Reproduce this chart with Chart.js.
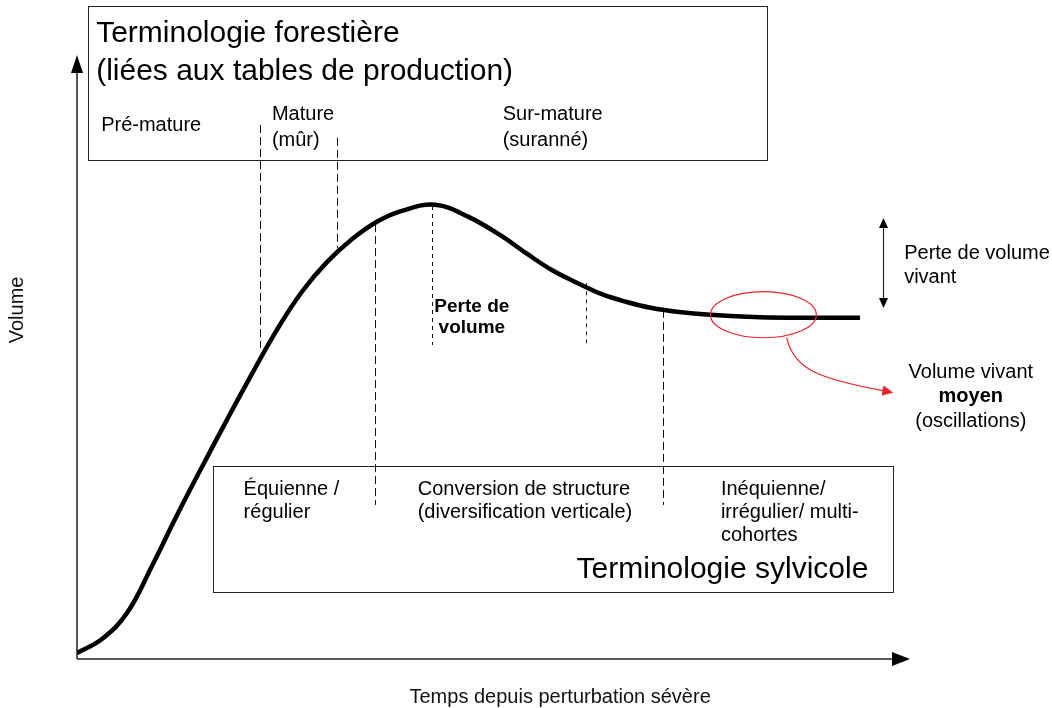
<!DOCTYPE html>
<html>
<head>
<meta charset="utf-8">
<script src="https://cdn.jsdelivr.net/npm/chart.js@4/dist/chart.umd.min.js"></script>
<style>html,body{margin:0;padding:0;background:#fff;}canvas{display:block;}</style>
</head>
<body>
<canvas id="c" width="1052" height="708"></canvas>
<script>
// ---- data (abstract units: time 0..100, volume 0..100) ----
const timeValues   = [0, 3, 6, 9, 12, 15, 18, 21, 24, 27, 30, 33, 36, 39, 43, 47, 51, 54, 57, 60, 63, 66, 69, 72, 76, 82, 88, 94];
const volumeValues = [1.0, 3.3, 7.6, 15.4, 23.8, 31.8, 39.6, 47.2, 54.5, 60.8, 65.7, 69.5, 72.4, 74.2, 75.2, 73.2, 70.0, 67.1, 64.4, 62.3, 60.4, 59.1, 58.1, 57.5, 57.0, 56.6, 56.5, 56.5];

// phase boundaries (dashed verticals)
const dashX      = [22.0, 31.2, 35.8, 42.6, 61.1, 70.3];
const dashTop    = [88.4, 86.3, 72.0, 75.0, 62.2, 57.8];
const dashBottom = [51.5, 68.0, 25.5, 52.0, 52.0, 25.5];
const dashFine   = [false, false, false, true, true, false];

// labels
const axisTitleX = 'Temps depuis perturbation sévère';
const axisTitleY = 'Volume';
const forestTitle = ['Terminologie forestière', '(liées aux tables de production)'];
const forestLabels = [['Pré-mature'], ['Mature', '(mûr)'], ['Sur-mature', '(suranné)']];
const forestLabelX = [2.9, 23.4, 51.1];
const sylvLabels = [['Équienne /', 'régulier'], ['Conversion de structure', '(diversification verticale)'], ['Inéquienne/', 'irrégulier/ multi-', 'cohortes']];
const sylvLabelX = [20.0, 40.9, 77.3];
const sylvTitle = 'Terminologie sylvicole';
const lossLabel = ['Perte de', 'volume'];
const liveLossLabel = ['Perte de volume', 'vivant'];
const meanLabel = ['Volume vivant', 'moyen', '(oscillations)'];

const FONT = '"Liberation Sans", Arial, Helvetica, sans-serif';

const annot = {
  id: 'annot',
  beforeDatasetsDraw(chart) {
    const {ctx, scales: {x, y}} = chart;
    ctx.save();
    ctx.strokeStyle = '#111';
    ctx.lineWidth = 1;
    dashX.forEach((v, i) => {
      ctx.setLineDash(dashFine[i] ? [4, 4] : [8, 4]);
      ctx.beginPath();
      const px = Math.round(x.getPixelForValue(v)) + 0.5;
      ctx.moveTo(px, y.getPixelForValue(dashTop[i]));
      ctx.lineTo(px, y.getPixelForValue(dashBottom[i]));
      ctx.stroke();
    });
    ctx.restore();
  },
  afterDatasetsDraw(chart) {
    const {ctx, scales: {x, y}} = chart;
    const X = v => x.getPixelForValue(v);
    const Y = v => y.getPixelForValue(v);
    ctx.save();
    // axes with arrows
    ctx.strokeStyle = '#222';
    ctx.fillStyle = '#000';
    ctx.lineWidth = 1.5;
    ctx.setLineDash([]);
    const x0 = X(0), y0 = Y(0), xT = X(100), yT = Y(100);
    ctx.beginPath();
    ctx.moveTo(x0, y0); ctx.lineTo(x0, yT + 16);
    ctx.moveTo(x0, y0); ctx.lineTo(xT - 16, y0);
    ctx.stroke();
    ctx.beginPath();
    ctx.moveTo(x0, yT); ctx.lineTo(x0 - 6, yT + 18); ctx.lineTo(x0 + 6, yT + 18); ctx.closePath(); ctx.fill();
    ctx.beginPath();
    ctx.moveTo(xT, y0); ctx.lineTo(xT - 18, y0 - 7); ctx.lineTo(xT - 18, y0 + 7); ctx.closePath(); ctx.fill();

    // boxes
    ctx.lineWidth = 1;
    ctx.strokeStyle = '#222';
    const box = (a, b, c, d) => {
      const l = Math.round(X(a)) + 0.5, t = Math.round(Y(b)) + 0.5;
      const r = Math.round(X(c)) + 0.5, btm = Math.round(Y(d)) + 0.5;
      ctx.strokeRect(l, t, r - l, btm - t);
    };
    box(1.32, 108.1, 82.8, 82.6);
    box(16.3, 32.0, 98.0, 11.1);

    const text = (s, vx, vy, font, align, color) => {
      ctx.font = font;
      ctx.textAlign = align || 'left';
      ctx.textBaseline = 'middle';
      ctx.fillStyle = color || '#000';
      ctx.fillText(s, X(vx), Y(vy));
    };
    const small = '20px ' + FONT;
    const big = '30px ' + FONT;

    text(forestTitle[0], 2.3, 103.6, big);
    text(forestTitle[1], 2.3, 97.2, big);
    forestLabels.forEach((lines, i) => {
      lines.forEach((s, j) => text(s, forestLabelX[i], (lines.length === 1 ? 88.4 : 90.1 - j * 4.2), small));
    });
    sylvLabels.forEach((lines, i) => {
      lines.forEach((s, j) => text(s, sylvLabelX[i], 28.0 - j * 3.8, small));
    });
    text(sylvTitle, 95.0, 14.7, big, 'right');

    lossLabel.forEach((s, j) => text(s, 47.4, 58.3 - j * 3.5, 'bold 19px ' + FONT, 'center'));
    liveLossLabel.forEach((s, j) => text(s, 99.3, 67.2 - j * 4.0, small));
    text(meanLabel[0], 107.3, 47.5, small, 'center');
    text(meanLabel[1], 107.3, 43.4, 'bold 20px ' + FONT, 'center');
    text(meanLabel[2], 107.3, 39.4, small, 'center');

    // double-headed arrow
    const ax = Math.round(X(96.8)) + 0.5, aTop = Y(73.0), aBot = Y(58.1);
    ctx.strokeStyle = '#222'; ctx.fillStyle = '#000'; ctx.lineWidth = 1.2;
    ctx.beginPath(); ctx.moveTo(ax, aTop + 8); ctx.lineTo(ax, aBot - 8); ctx.stroke();
    ctx.beginPath(); ctx.moveTo(ax, aTop); ctx.lineTo(ax - 4.5, aTop + 10); ctx.lineTo(ax + 4.5, aTop + 10); ctx.closePath(); ctx.fill();
    ctx.beginPath(); ctx.moveTo(ax, aBot); ctx.lineTo(ax - 4.5, aBot - 10); ctx.lineTo(ax + 4.5, aBot - 10); ctx.closePath(); ctx.fill();

    // red ellipse
    ctx.strokeStyle = '#e8242a'; ctx.fillStyle = '#e8242a'; ctx.lineWidth = 1.2;
    const ecx = X(82.4), ecy = Y(57.0);
    ctx.beginPath();
    ctx.ellipse(ecx, ecy, X(82.4 + 6.36) - ecx, ecy - Y(57.0 + 3.81), 0, 0, Math.PI * 2);
    ctx.stroke();
    // red curved arrow
    ctx.beginPath();
    ctx.moveTo(X(85.2), Y(53.2));
    ctx.bezierCurveTo(X(86.0), Y(48.0), X(89.0), Y(46.4), X(96.9), Y(44.4));
    ctx.stroke();
    const tx = X(98.0), ty = Y(44.1);
    const ang = Math.atan2(ty - Y(44.4), tx - X(96.9));
    ctx.beginPath();
    ctx.moveTo(tx, ty);
    ctx.lineTo(tx - 11 * Math.cos(ang) + 5 * Math.sin(ang), ty - 11 * Math.sin(ang) - 5 * Math.cos(ang));
    ctx.lineTo(tx - 11 * Math.cos(ang) - 5 * Math.sin(ang), ty - 11 * Math.sin(ang) + 5 * Math.cos(ang));
    ctx.closePath(); ctx.fill();

    // axis titles
    text(axisTitleX, 58.0, -6.3, small, 'center', '#111');
    ctx.save();
    ctx.translate(X(-7.1), Y(57.8));
    ctx.rotate(-Math.PI / 2);
    ctx.font = small; ctx.textAlign = 'center'; ctx.textBaseline = 'middle'; ctx.fillStyle = '#111';
    ctx.fillText(axisTitleY, 0, 0);
    ctx.restore();

    ctx.restore();
  }
};

new Chart(document.getElementById('c'), {
  type: 'scatter',
  data: {
    datasets: [{
      data: timeValues.map((t, i) => ({x: t, y: volumeValues[i]})),
      showLine: true,
      borderColor: '#000',
      borderWidth: 4.5,
      pointRadius: 0,
      tension: 0.4,
      cubicInterpolationMode: 'default',
      fill: false,
      borderCapStyle: 'butt'
    }]
  },
  options: {
    responsive: false,
    animation: false,
    layout: {padding: {left: 77, right: 142, top: 55, bottom: 49}},
    plugins: {legend: {display: false}, tooltip: {enabled: false}},
    scales: {
      x: {type: 'linear', min: 0, max: 100, display: false},
      y: {type: 'linear', min: 0, max: 100, display: false}
    }
  },
  plugins: [annot]
});
</script>
</body>
</html>
